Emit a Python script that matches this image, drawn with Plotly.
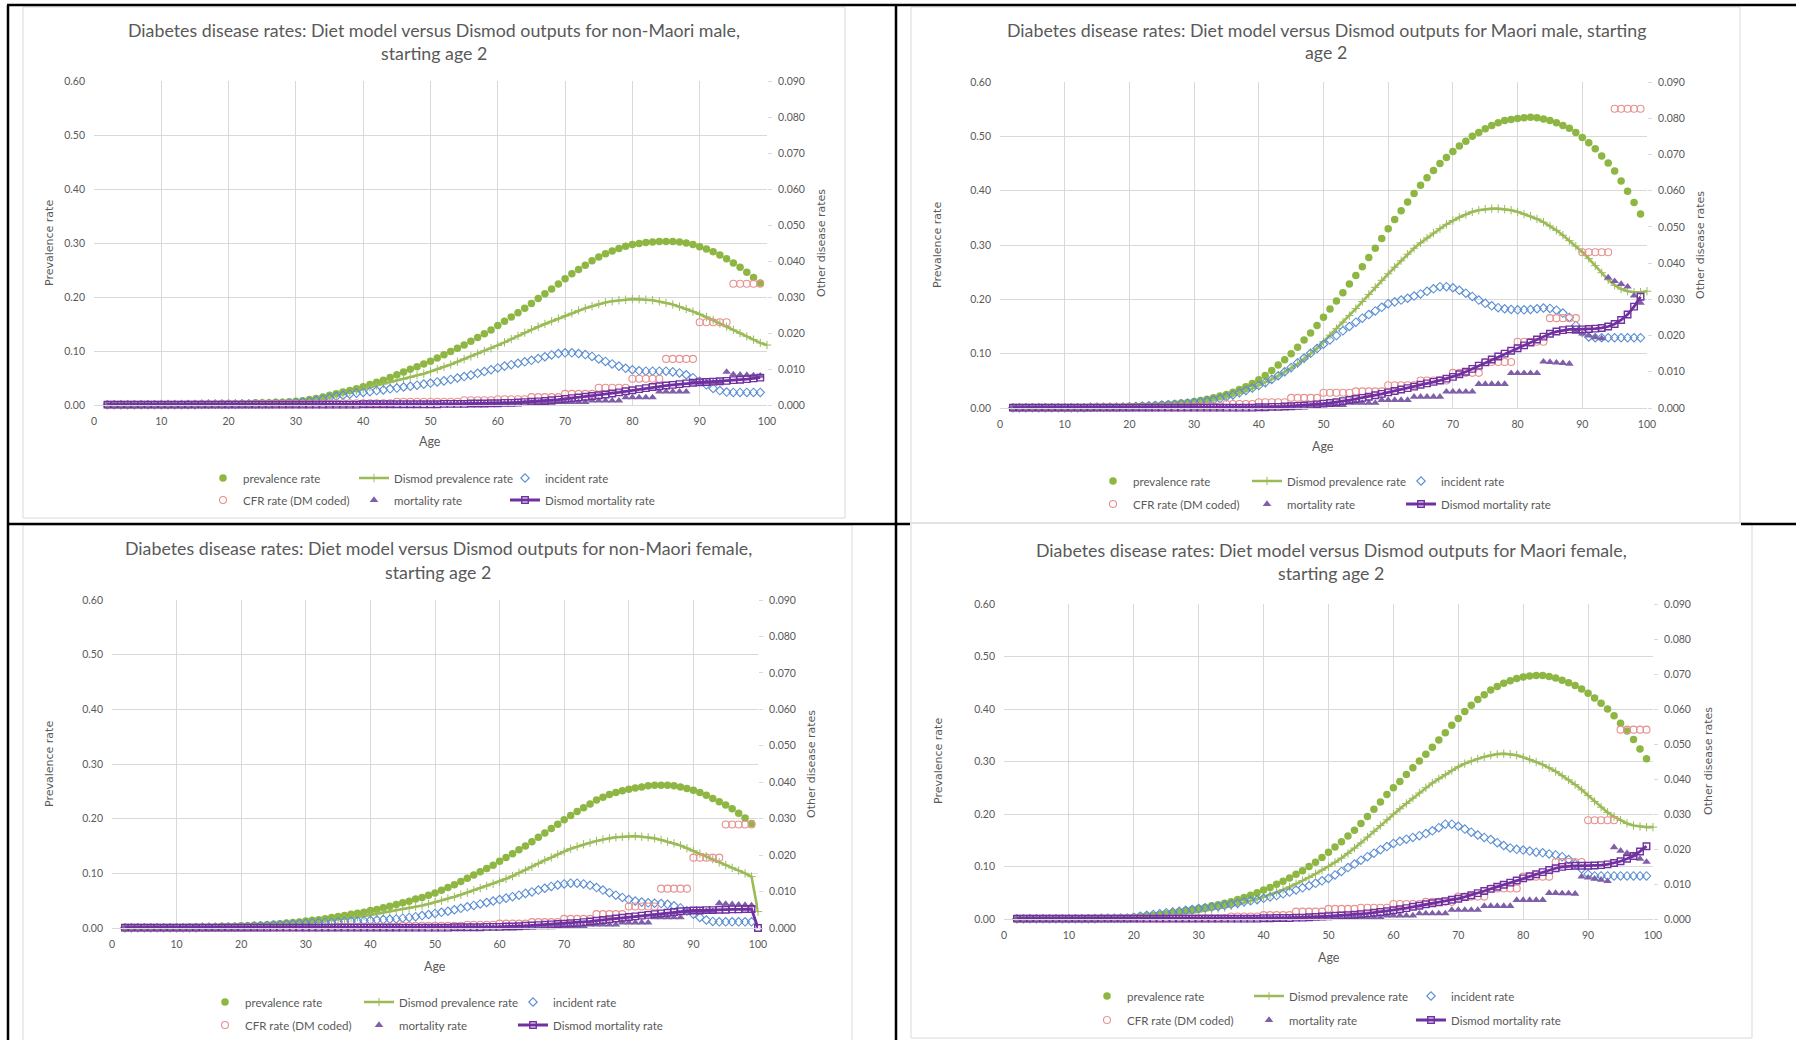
import plotly.graph_objects as go

W, H = 1796, 1040

# ---------------- DATA (ages 2..99; Dismod prevalence 2..100) ----------------
TITLES = [
    ("Diabetes disease rates: Diet model versus Dismod outputs for non-Maori male,", "starting age 2"),
    ("Diabetes disease rates: Diet model versus Dismod outputs for Maori male, starting", "age 2"),
    ("Diabetes disease rates: Diet model versus Dismod outputs for non-Maori female,", "starting age 2"),
    ("Diabetes disease rates: Diet model versus Dismod outputs for Maori female,", "starting age 2"),
]
SERIES_NAMES = ["prevalence rate", "Dismod prevalence rate", "incident rate",
                "CFR rate (DM coded)", "mortality rate", "Dismod mortality rate"]
X_TICKS = [0, 10, 20, 30, 40, 50, 60, 70, 80, 90, 100]
Y1_TICKS = [0.0, 0.1, 0.2, 0.3, 0.4, 0.5, 0.6]
Y2_TICKS = [0.0, 0.01, 0.02, 0.03, 0.04, 0.05, 0.06, 0.07, 0.08, 0.09]

# non-Maori male
NMM_PREV = [0.000, 0.000, 0.000, 0.000, 0.000, 0.001, 0.001, 0.001,
            0.001, 0.001, 0.001, 0.001, 0.002, 0.002, 0.002, 0.002, 0.002, 0.003,
            0.003, 0.003, 0.003, 0.003, 0.004, 0.004, 0.004, 0.005, 0.005, 0.006,
            0.007, 0.008, 0.010, 0.012, 0.015, 0.018, 0.021, 0.024, 0.027, 0.030,
            0.034, 0.038, 0.042, 0.046, 0.051, 0.056, 0.061, 0.066, 0.071, 0.076,
            0.081, 0.087, 0.093, 0.099, 0.105, 0.111, 0.118, 0.125, 0.132, 0.139,
            0.147, 0.155, 0.163, 0.171, 0.179, 0.188, 0.197, 0.206, 0.215, 0.224,
            0.234, 0.243, 0.251, 0.259, 0.267, 0.274, 0.280, 0.285, 0.290, 0.294,
            0.297, 0.299, 0.301, 0.302, 0.303, 0.303, 0.303, 0.302, 0.300, 0.297,
            0.293, 0.289, 0.284, 0.278, 0.271, 0.263, 0.255, 0.246, 0.236, 0.226]
NMM_DPREV = [0.001, 0.001, 0.001, 0.001, 0.001, 0.001, 0.001, 0.001,
             0.002, 0.002, 0.002, 0.002, 0.002, 0.002, 0.002, 0.003, 0.003, 0.003,
             0.003, 0.003, 0.003, 0.003, 0.003, 0.004, 0.004, 0.004, 0.004, 0.005,
             0.005, 0.006, 0.008, 0.010, 0.012, 0.015, 0.018, 0.021, 0.024, 0.027,
             0.030, 0.033, 0.036, 0.039, 0.042, 0.045, 0.048, 0.051, 0.055, 0.058,
             0.062, 0.066, 0.071, 0.075, 0.080, 0.085, 0.090, 0.095, 0.100, 0.105,
             0.110, 0.116, 0.122, 0.128, 0.134, 0.140, 0.145, 0.150, 0.155, 0.160,
             0.165, 0.170, 0.175, 0.179, 0.183, 0.187, 0.190, 0.192, 0.194, 0.195,
             0.196, 0.196, 0.195, 0.194, 0.192, 0.189, 0.186, 0.182, 0.178, 0.173,
             0.168, 0.163, 0.157, 0.151, 0.145, 0.139, 0.133, 0.127, 0.121, 0.115,
             0.111]
NMM_INC = [0.0001, 0.0001, 0.0001, 0.0001, 0.0001, 0.0001, 0.0001, 0.0001,
           0.0001, 0.0001, 0.0001, 0.0001, 0.0001, 0.0001, 0.0002, 0.0002, 0.0002, 0.0002,
           0.0002, 0.0002, 0.0003, 0.0003, 0.0003, 0.0003, 0.0003, 0.0004, 0.0004, 0.0005,
           0.0006, 0.0008, 0.0010, 0.0013, 0.0016, 0.0020, 0.0024, 0.0027, 0.0030, 0.0033,
           0.0035, 0.0037, 0.0040, 0.0042, 0.0045, 0.0047, 0.0050, 0.0052, 0.0055, 0.0058,
           0.0061, 0.0064, 0.0067, 0.0071, 0.0075, 0.0079, 0.0083, 0.0088, 0.0093, 0.0098,
           0.0103, 0.0108, 0.0112, 0.0116, 0.0120, 0.0124, 0.0129, 0.0134, 0.0139, 0.0143,
           0.0145, 0.0145, 0.0143, 0.0140, 0.0135, 0.0128, 0.0121, 0.0114, 0.0108, 0.0102,
           0.0098, 0.0095, 0.0094, 0.0094, 0.0094, 0.0094, 0.0092, 0.0089, 0.0084, 0.0076,
           0.0066, 0.0056, 0.0046, 0.0040, 0.0036, 0.0035, 0.0035, 0.0035, 0.0035, 0.0035]
NMM_CFR = [0.0001, 0.0001, 0.0001, 0.0001, 0.0001, 0.0001, 0.0001, 0.0001,
           0.0001, 0.0001, 0.0001, 0.0001, 0.0001, 0.0002, 0.0002, 0.0002, 0.0002, 0.0002,
           0.0002, 0.0002, 0.0002, 0.0002, 0.0002, 0.0003, 0.0003, 0.0003, 0.0003, 0.0003,
           0.0003, 0.0003, 0.0003, 0.0003, 0.0003, 0.0005, 0.0005, 0.0005, 0.0005, 0.0005,
           0.0005, 0.0005, 0.0005, 0.0005, 0.0005, 0.0009, 0.0009, 0.0009, 0.0009, 0.0009,
           0.0009, 0.0009, 0.0009, 0.0009, 0.0009, 0.0013, 0.0013, 0.0013, 0.0013, 0.0013,
           0.0016, 0.0016, 0.0016, 0.0016, 0.0016, 0.0022, 0.0022, 0.0022, 0.0022, 0.0022,
           0.0031, 0.0031, 0.0031, 0.0031, 0.0031, 0.0048, 0.0048, 0.0048, 0.0048, 0.0048,
           0.0073, 0.0073, 0.0073, 0.0073, 0.0073, 0.0128, 0.0128, 0.0128, 0.0128, 0.0128,
           0.0230, 0.0230, 0.0230, 0.0230, 0.0230, 0.0337, 0.0337, 0.0337, 0.0337, 0.0337]
NMM_MORT = [0.0001, 0.0001, 0.0001, 0.0001, 0.0001, 0.0001, 0.0001, 0.0001,
            0.0001, 0.0001, 0.0001, 0.0001, 0.0001, 0.0001, 0.0001, 0.0001, 0.0001, 0.0001,
            0.0001, 0.0001, 0.0001, 0.0001, 0.0001, 0.0001, 0.0001, 0.0001, 0.0001, 0.0001,
            0.0001, 0.0001, 0.0001, 0.0001, 0.0001, 0.0001, 0.0001, 0.0001, 0.0001, 0.0002,
            0.0002, 0.0002, 0.0002, 0.0002, 0.0002, 0.0002, 0.0002, 0.0002, 0.0002, 0.0003,
            0.0003, 0.0003, 0.0003, 0.0003, 0.0004, 0.0004, 0.0004, 0.0004, 0.0004, 0.0005,
            0.0005, 0.0005, 0.0005, 0.0005, 0.0006, 0.0006, 0.0006, 0.0006, 0.0006, 0.0008,
            0.0008, 0.0008, 0.0008, 0.0008, 0.0012, 0.0012, 0.0012, 0.0012, 0.0012, 0.0021,
            0.0021, 0.0021, 0.0021, 0.0021, 0.0037, 0.0037, 0.0037, 0.0037, 0.0037, 0.0063,
            0.0063, 0.0063, 0.0063, 0.0063, 0.0092, 0.0085, 0.0084, 0.0083, 0.0082, 0.0081]
NMM_DMORT = [0.0001, 0.0001, 0.0001, 0.0001, 0.0001, 0.0001, 0.0001, 0.0001,
             0.0001, 0.0001, 0.0001, 0.0001, 0.0001, 0.0001, 0.0001, 0.0001, 0.0001, 0.0001,
             0.0001, 0.0001, 0.0001, 0.0001, 0.0001, 0.0001, 0.0001, 0.0001, 0.0001, 0.0001,
             0.0001, 0.0001, 0.0001, 0.0001, 0.0001, 0.0001, 0.0001, 0.0001, 0.0001, 0.0001,
             0.0002, 0.0002, 0.0002, 0.0002, 0.0002, 0.0002, 0.0002, 0.0002, 0.0002, 0.0002,
             0.0002, 0.0002, 0.0003, 0.0003, 0.0003, 0.0003, 0.0004, 0.0004, 0.0004, 0.0005,
             0.0005, 0.0006, 0.0006, 0.0007, 0.0008, 0.0009, 0.0010, 0.0011, 0.0013, 0.0015,
             0.0017, 0.0019, 0.0021, 0.0023, 0.0025, 0.0027, 0.0029, 0.0032, 0.0035, 0.0038,
             0.0041, 0.0044, 0.0047, 0.0050, 0.0052, 0.0054, 0.0056, 0.0058, 0.0060, 0.0062,
             0.0063, 0.0064, 0.0065, 0.0066, 0.0067, 0.0069, 0.0070, 0.0072, 0.0074, 0.0076]

# Maori male
MM_PREV = [0.000, 0.000, 0.001, 0.001, 0.001, 0.001, 0.001, 0.001,
           0.001, 0.001, 0.001, 0.001, 0.001, 0.002, 0.002, 0.002, 0.002, 0.002,
           0.003, 0.003, 0.004, 0.004, 0.005, 0.006, 0.007, 0.008, 0.009, 0.010,
           0.012, 0.014, 0.016, 0.019, 0.022, 0.025, 0.029, 0.034, 0.039, 0.045,
           0.052, 0.060, 0.069, 0.079, 0.089, 0.100, 0.112, 0.125, 0.138, 0.152,
           0.167, 0.182, 0.197, 0.212, 0.228, 0.244, 0.260, 0.277, 0.294, 0.312,
           0.330, 0.347, 0.363, 0.379, 0.395, 0.410, 0.424, 0.437, 0.450, 0.461,
           0.472, 0.482, 0.491, 0.500, 0.507, 0.514, 0.520, 0.525, 0.529, 0.531,
           0.533, 0.534, 0.535, 0.534, 0.532, 0.529, 0.525, 0.520, 0.515, 0.507,
           0.498, 0.488, 0.477, 0.464, 0.451, 0.436, 0.418, 0.399, 0.378, 0.357]
MM_DPREV = [0.000, 0.000, 0.001, 0.001, 0.001, 0.001, 0.001, 0.001,
            0.001, 0.001, 0.001, 0.001, 0.002, 0.002, 0.002, 0.002, 0.002, 0.002,
            0.003, 0.003, 0.004, 0.004, 0.005, 0.005, 0.006, 0.007, 0.008, 0.009,
            0.010, 0.011, 0.013, 0.015, 0.017, 0.020, 0.023, 0.027, 0.031, 0.036,
            0.042, 0.047, 0.053, 0.059, 0.066, 0.073, 0.081, 0.090, 0.100, 0.110,
            0.122, 0.134, 0.146, 0.158, 0.170, 0.183, 0.196, 0.209, 0.222, 0.235,
            0.247, 0.259, 0.271, 0.283, 0.294, 0.304, 0.313, 0.322, 0.330, 0.338,
            0.345, 0.351, 0.356, 0.361, 0.364, 0.366, 0.367, 0.367, 0.366, 0.364,
            0.361, 0.357, 0.353, 0.348, 0.342, 0.335, 0.327, 0.318, 0.308, 0.298,
            0.287, 0.275, 0.262, 0.249, 0.236, 0.226, 0.219, 0.215, 0.213, 0.213,
            0.215]
MM_INC = [0.0001, 0.0001, 0.0001, 0.0001, 0.0001, 0.0001, 0.0001, 0.0001,
          0.0001, 0.0001, 0.0001, 0.0001, 0.0002, 0.0002, 0.0002, 0.0002, 0.0002, 0.0003,
          0.0003, 0.0004, 0.0005, 0.0006, 0.0007, 0.0008, 0.0009, 0.0010, 0.0012, 0.0013,
          0.0015, 0.0017, 0.0019, 0.0022, 0.0026, 0.0031, 0.0036, 0.0042, 0.0048, 0.0055,
          0.0062, 0.0070, 0.0079, 0.0089, 0.0100, 0.0112, 0.0125, 0.0138, 0.0151, 0.0164,
          0.0176, 0.0188, 0.0200, 0.0213, 0.0225, 0.0237, 0.0248, 0.0258, 0.0268, 0.0278,
          0.0288, 0.0293, 0.0298, 0.0303, 0.0309, 0.0315, 0.0322, 0.0329, 0.0335, 0.0335,
          0.0332, 0.0325, 0.0317, 0.0308, 0.0298, 0.0289, 0.0282, 0.0277, 0.0274, 0.0272,
          0.0271, 0.0271, 0.0272, 0.0274, 0.0276, 0.0275, 0.0270, 0.0262, 0.0250, 0.0228,
          0.0209, 0.0196, 0.0194, 0.0194, 0.0194, 0.0194, 0.0194, 0.0194, 0.0194, 0.0194]
MM_CFR = [0.0001, 0.0001, 0.0001, 0.0001, 0.0001, 0.0001, 0.0001, 0.0001,
          0.0001, 0.0001, 0.0001, 0.0001, 0.0001, 0.0002, 0.0002, 0.0002, 0.0002, 0.0002,
          0.0002, 0.0002, 0.0002, 0.0002, 0.0002, 0.0003, 0.0003, 0.0003, 0.0003, 0.0003,
          0.0005, 0.0005, 0.0005, 0.0005, 0.0005, 0.0011, 0.0011, 0.0011, 0.0011, 0.0011,
          0.0016, 0.0016, 0.0016, 0.0016, 0.0016, 0.0028, 0.0028, 0.0028, 0.0028, 0.0028,
          0.0042, 0.0042, 0.0042, 0.0042, 0.0042, 0.0046, 0.0046, 0.0046, 0.0046, 0.0046,
          0.0063, 0.0063, 0.0063, 0.0063, 0.0063, 0.0076, 0.0076, 0.0076, 0.0076, 0.0076,
          0.0097, 0.0097, 0.0097, 0.0097, 0.0097, 0.0127, 0.0127, 0.0127, 0.0127, 0.0127,
          0.0183, 0.0183, 0.0183, 0.0183, 0.0183, 0.0248, 0.0248, 0.0248, 0.0248, 0.0248,
          0.0430, 0.0430, 0.0430, 0.0430, 0.0430, 0.0826, 0.0826, 0.0826, 0.0826, 0.0826]
MM_MORT = [0.0001, 0.0001, 0.0001, 0.0001, 0.0001, 0.0001, 0.0001, 0.0001,
           0.0001, 0.0001, 0.0001, 0.0001, 0.0001, 0.0001, 0.0001, 0.0001, 0.0001, 0.0001,
           0.0001, 0.0001, 0.0001, 0.0001, 0.0001, 0.0001, 0.0001, 0.0001, 0.0001, 0.0001,
           0.0001, 0.0001, 0.0001, 0.0001, 0.0001, 0.0001, 0.0001, 0.0001, 0.0001, 0.0001,
           0.0001, 0.0001, 0.0001, 0.0001, 0.0004, 0.0004, 0.0004, 0.0004, 0.0004, 0.0008,
           0.0008, 0.0008, 0.0008, 0.0008, 0.0014, 0.0014, 0.0014, 0.0014, 0.0014, 0.0022,
           0.0022, 0.0022, 0.0022, 0.0022, 0.0031, 0.0031, 0.0031, 0.0031, 0.0031, 0.0045,
           0.0045, 0.0045, 0.0045, 0.0045, 0.0066, 0.0066, 0.0066, 0.0066, 0.0066, 0.0096,
           0.0096, 0.0096, 0.0096, 0.0096, 0.0128, 0.0127, 0.0125, 0.0124, 0.0122, 0.0210,
           0.0205, 0.0200, 0.0195, 0.0192, 0.0360, 0.0350, 0.0342, 0.0335, 0.0310, 0.0290]
MM_DMORT = [0.0001, 0.0001, 0.0001, 0.0001, 0.0001, 0.0001, 0.0001, 0.0001,
            0.0001, 0.0001, 0.0001, 0.0001, 0.0001, 0.0001, 0.0001, 0.0001, 0.0001, 0.0001,
            0.0001, 0.0001, 0.0001, 0.0001, 0.0001, 0.0001, 0.0001, 0.0001, 0.0001, 0.0001,
            0.0001, 0.0001, 0.0001, 0.0001, 0.0001, 0.0001, 0.0001, 0.0001, 0.0001, 0.0001,
            0.0002, 0.0002, 0.0003, 0.0003, 0.0004, 0.0005, 0.0006, 0.0007, 0.0008, 0.0010,
            0.0012, 0.0014, 0.0016, 0.0019, 0.0022, 0.0025, 0.0028, 0.0031, 0.0035, 0.0039,
            0.0043, 0.0047, 0.0051, 0.0055, 0.0059, 0.0064, 0.0068, 0.0072, 0.0076, 0.0081,
            0.0086, 0.0093, 0.0100, 0.0108, 0.0117, 0.0126, 0.0134, 0.0142, 0.0150, 0.0158,
            0.0165, 0.0173, 0.0181, 0.0189, 0.0197, 0.0205, 0.0211, 0.0215, 0.0217, 0.0217,
            0.0217, 0.0218, 0.0219, 0.0221, 0.0225, 0.0232, 0.0243, 0.0258, 0.0280, 0.0307]

# non-Maori female (Dismod mortality 2..100)
NMF_PREV = [0.000, 0.000, 0.001, 0.001, 0.001, 0.001, 0.001, 0.001,
            0.001, 0.001, 0.002, 0.002, 0.002, 0.002, 0.002, 0.003, 0.003, 0.003,
            0.004, 0.004, 0.005, 0.005, 0.006, 0.007, 0.008, 0.009, 0.010, 0.011,
            0.013, 0.014, 0.015, 0.017, 0.019, 0.021, 0.023, 0.025, 0.027, 0.029,
            0.032, 0.034, 0.037, 0.040, 0.043, 0.046, 0.049, 0.053, 0.056, 0.060,
            0.064, 0.069, 0.074, 0.079, 0.085, 0.091, 0.097, 0.103, 0.109, 0.115,
            0.122, 0.129, 0.136, 0.143, 0.150, 0.158, 0.166, 0.174, 0.182, 0.190,
            0.198, 0.206, 0.213, 0.220, 0.227, 0.234, 0.239, 0.244, 0.248, 0.251,
            0.254, 0.256, 0.258, 0.260, 0.261, 0.261, 0.261, 0.260, 0.258, 0.255,
            0.252, 0.248, 0.243, 0.237, 0.231, 0.225, 0.218, 0.210, 0.201, 0.191]
NMF_DPREV = [0.000, 0.000, 0.001, 0.001, 0.001, 0.001, 0.001, 0.001,
             0.001, 0.001, 0.001, 0.002, 0.002, 0.002, 0.002, 0.002, 0.002, 0.002,
             0.003, 0.003, 0.004, 0.004, 0.005, 0.006, 0.006, 0.007, 0.008, 0.009,
             0.010, 0.011, 0.012, 0.013, 0.014, 0.016, 0.017, 0.019, 0.020, 0.022,
             0.024, 0.026, 0.028, 0.030, 0.032, 0.034, 0.036, 0.039, 0.041, 0.044,
             0.047, 0.050, 0.054, 0.057, 0.061, 0.065, 0.069, 0.073, 0.077, 0.081,
             0.085, 0.090, 0.095, 0.101, 0.106, 0.112, 0.118, 0.124, 0.129, 0.135,
             0.140, 0.145, 0.149, 0.153, 0.156, 0.159, 0.162, 0.164, 0.166, 0.167,
             0.168, 0.168, 0.167, 0.166, 0.164, 0.161, 0.158, 0.155, 0.151, 0.146,
             0.141, 0.136, 0.131, 0.126, 0.120, 0.115, 0.110, 0.105, 0.100, 0.094,
             0.030]
NMF_INC = [0.0001, 0.0001, 0.0001, 0.0001, 0.0001, 0.0001, 0.0001, 0.0001,
           0.0001, 0.0001, 0.0001, 0.0001, 0.0002, 0.0002, 0.0002, 0.0002, 0.0002, 0.0002,
           0.0003, 0.0004, 0.0005, 0.0006, 0.0007, 0.0008, 0.0009, 0.0010, 0.0011, 0.0012,
           0.0013, 0.0014, 0.0015, 0.0016, 0.0016, 0.0017, 0.0018, 0.0019, 0.0019, 0.0020,
           0.0021, 0.0022, 0.0023, 0.0024, 0.0025, 0.0027, 0.0029, 0.0031, 0.0034, 0.0037,
           0.0040, 0.0043, 0.0046, 0.0050, 0.0054, 0.0058, 0.0062, 0.0066, 0.0070, 0.0074,
           0.0078, 0.0082, 0.0086, 0.0090, 0.0095, 0.0099, 0.0104, 0.0109, 0.0114, 0.0118,
           0.0121, 0.0123, 0.0123, 0.0121, 0.0117, 0.0111, 0.0104, 0.0097, 0.0090, 0.0084,
           0.0078, 0.0074, 0.0071, 0.0069, 0.0068, 0.0067, 0.0065, 0.0061, 0.0055, 0.0047,
           0.0038, 0.0029, 0.0022, 0.0018, 0.0017, 0.0017, 0.0017, 0.0017, 0.0017, 0.0017]
NMF_CFR = [0.0001, 0.0001, 0.0001, 0.0001, 0.0001, 0.0001, 0.0001, 0.0001,
           0.0001, 0.0001, 0.0001, 0.0001, 0.0001, 0.0001, 0.0001, 0.0001, 0.0001, 0.0001,
           0.0001, 0.0001, 0.0001, 0.0001, 0.0001, 0.0002, 0.0002, 0.0002, 0.0002, 0.0002,
           0.0002, 0.0002, 0.0002, 0.0002, 0.0002, 0.0003, 0.0003, 0.0003, 0.0003, 0.0003,
           0.0003, 0.0003, 0.0003, 0.0003, 0.0003, 0.0006, 0.0006, 0.0006, 0.0006, 0.0006,
           0.0006, 0.0006, 0.0006, 0.0006, 0.0006, 0.0009, 0.0009, 0.0009, 0.0009, 0.0009,
           0.0012, 0.0012, 0.0012, 0.0012, 0.0012, 0.0016, 0.0016, 0.0016, 0.0016, 0.0016,
           0.0025, 0.0025, 0.0025, 0.0025, 0.0025, 0.0038, 0.0038, 0.0038, 0.0038, 0.0038,
           0.0059, 0.0059, 0.0059, 0.0059, 0.0059, 0.0108, 0.0108, 0.0108, 0.0108, 0.0108,
           0.0193, 0.0193, 0.0193, 0.0193, 0.0193, 0.0284, 0.0284, 0.0284, 0.0284, 0.0284]
NMF_MORT = [0.0001, 0.0001, 0.0001, 0.0001, 0.0001, 0.0001, 0.0001, 0.0001,
            0.0001, 0.0001, 0.0001, 0.0001, 0.0001, 0.0001, 0.0001, 0.0001, 0.0001, 0.0001,
            0.0001, 0.0001, 0.0001, 0.0001, 0.0001, 0.0001, 0.0001, 0.0001, 0.0001, 0.0001,
            0.0001, 0.0001, 0.0001, 0.0001, 0.0001, 0.0001, 0.0001, 0.0001, 0.0001, 0.0001,
            0.0001, 0.0001, 0.0001, 0.0001, 0.0001, 0.0001, 0.0001, 0.0001, 0.0001, 0.0002,
            0.0002, 0.0002, 0.0002, 0.0002, 0.0002, 0.0002, 0.0002, 0.0002, 0.0002, 0.0002,
            0.0002, 0.0002, 0.0002, 0.0002, 0.0002, 0.0002, 0.0002, 0.0002, 0.0002, 0.0005,
            0.0005, 0.0005, 0.0005, 0.0005, 0.0009, 0.0009, 0.0009, 0.0009, 0.0009, 0.0015,
            0.0015, 0.0015, 0.0015, 0.0015, 0.0029, 0.0029, 0.0029, 0.0029, 0.0029, 0.0046,
            0.0046, 0.0046, 0.0046, 0.0046, 0.0068, 0.0066, 0.0065, 0.0064, 0.0063, 0.0062]
NMF_DMORT = [0.0001, 0.0001, 0.0001, 0.0001, 0.0001, 0.0001, 0.0001, 0.0001,
             0.0001, 0.0001, 0.0001, 0.0001, 0.0001, 0.0001, 0.0001, 0.0001, 0.0001, 0.0001,
             0.0001, 0.0001, 0.0001, 0.0001, 0.0001, 0.0001, 0.0001, 0.0001, 0.0001, 0.0001,
             0.0001, 0.0001, 0.0001, 0.0001, 0.0001, 0.0001, 0.0001, 0.0001, 0.0001, 0.0001,
             0.0001, 0.0001, 0.0001, 0.0001, 0.0001, 0.0001, 0.0001, 0.0001, 0.0001, 0.0001,
             0.0001, 0.0001, 0.0001, 0.0002, 0.0002, 0.0002, 0.0002, 0.0002, 0.0003, 0.0003,
             0.0003, 0.0004, 0.0004, 0.0005, 0.0006, 0.0007, 0.0008, 0.0009, 0.0010, 0.0011,
             0.0012, 0.0013, 0.0014, 0.0016, 0.0018, 0.0020, 0.0022, 0.0024, 0.0026, 0.0028,
             0.0030, 0.0032, 0.0034, 0.0036, 0.0038, 0.0040, 0.0042, 0.0044, 0.0046, 0.0047,
             0.0048, 0.0048, 0.0049, 0.0049, 0.0050, 0.0050, 0.0051, 0.0051, 0.0052, 0.0052,
             0.0000]

# Maori female
MF_PREV = [0.000, 0.000, 0.001, 0.001, 0.001, 0.001, 0.001, 0.001,
           0.001, 0.001, 0.001, 0.002, 0.002, 0.002, 0.002, 0.002, 0.003, 0.003,
           0.004, 0.005, 0.006, 0.007, 0.008, 0.010, 0.012, 0.014, 0.016, 0.018,
           0.020, 0.022, 0.025, 0.027, 0.030, 0.033, 0.037, 0.041, 0.045, 0.050,
           0.055, 0.060, 0.066, 0.072, 0.078, 0.085, 0.092, 0.100, 0.108, 0.117,
           0.127, 0.137, 0.147, 0.158, 0.169, 0.182, 0.195, 0.209, 0.223, 0.237,
           0.250, 0.262, 0.275, 0.288, 0.301, 0.314, 0.327, 0.341, 0.355, 0.369,
           0.382, 0.395, 0.407, 0.418, 0.427, 0.436, 0.443, 0.449, 0.454, 0.458,
           0.461, 0.463, 0.464, 0.464, 0.462, 0.459, 0.455, 0.450, 0.445, 0.438,
           0.430, 0.421, 0.411, 0.400, 0.387, 0.373, 0.358, 0.342, 0.324, 0.305]
MF_DPREV = [0.000, 0.000, 0.001, 0.001, 0.001, 0.001, 0.001, 0.001,
            0.001, 0.001, 0.001, 0.001, 0.002, 0.002, 0.002, 0.002, 0.002, 0.002,
            0.003, 0.004, 0.005, 0.005, 0.006, 0.007, 0.008, 0.010, 0.011, 0.012,
            0.014, 0.016, 0.018, 0.020, 0.022, 0.025, 0.028, 0.031, 0.035, 0.038,
            0.042, 0.046, 0.051, 0.056, 0.061, 0.067, 0.073, 0.079, 0.086, 0.093,
            0.100, 0.108, 0.116, 0.125, 0.135, 0.145, 0.156, 0.167, 0.178, 0.189,
            0.200, 0.210, 0.220, 0.230, 0.240, 0.250, 0.259, 0.267, 0.275, 0.283,
            0.290, 0.296, 0.301, 0.305, 0.309, 0.312, 0.314, 0.315, 0.314, 0.312,
            0.308, 0.304, 0.299, 0.294, 0.288, 0.281, 0.273, 0.265, 0.256, 0.246,
            0.235, 0.224, 0.213, 0.203, 0.195, 0.188, 0.182, 0.178, 0.176, 0.175,
            0.175]
MF_INC = [0.0001, 0.0001, 0.0001, 0.0001, 0.0001, 0.0001, 0.0001, 0.0001,
          0.0001, 0.0001, 0.0001, 0.0001, 0.0001, 0.0002, 0.0002, 0.0002, 0.0002, 0.0002,
          0.0004, 0.0008, 0.0011, 0.0013, 0.0015, 0.0018, 0.0020, 0.0022, 0.0025, 0.0027,
          0.0030, 0.0032, 0.0034, 0.0036, 0.0039, 0.0042, 0.0045, 0.0049, 0.0052, 0.0055,
          0.0059, 0.0063, 0.0067, 0.0072, 0.0077, 0.0083, 0.0089, 0.0095, 0.0102, 0.0109,
          0.0116, 0.0126, 0.0136, 0.0147, 0.0157, 0.0168, 0.0178, 0.0188, 0.0198, 0.0207,
          0.0216, 0.0222, 0.0228, 0.0233, 0.0238, 0.0244, 0.0252, 0.0261, 0.0271, 0.0271,
          0.0265, 0.0257, 0.0248, 0.0240, 0.0233, 0.0227, 0.0218, 0.0210, 0.0203, 0.0199,
          0.0197, 0.0194, 0.0191, 0.0189, 0.0186, 0.0183, 0.0178, 0.0170, 0.0158, 0.0143,
          0.0128, 0.0123, 0.0123, 0.0123, 0.0123, 0.0123, 0.0123, 0.0123, 0.0123, 0.0123]
MF_CFR = [0.0001, 0.0001, 0.0001, 0.0001, 0.0001, 0.0001, 0.0001, 0.0001,
          0.0001, 0.0001, 0.0001, 0.0001, 0.0001, 0.0002, 0.0002, 0.0002, 0.0002, 0.0002,
          0.0002, 0.0002, 0.0002, 0.0002, 0.0002, 0.0002, 0.0002, 0.0002, 0.0002, 0.0002,
          0.0003, 0.0003, 0.0003, 0.0003, 0.0003, 0.0007, 0.0007, 0.0007, 0.0007, 0.0007,
          0.0011, 0.0011, 0.0011, 0.0011, 0.0011, 0.0021, 0.0021, 0.0021, 0.0021, 0.0021,
          0.0029, 0.0029, 0.0029, 0.0029, 0.0029, 0.0032, 0.0032, 0.0032, 0.0032, 0.0032,
          0.0043, 0.0043, 0.0043, 0.0043, 0.0043, 0.0049, 0.0049, 0.0049, 0.0049, 0.0049,
          0.0064, 0.0064, 0.0064, 0.0064, 0.0064, 0.0087, 0.0087, 0.0087, 0.0087, 0.0087,
          0.0121, 0.0121, 0.0121, 0.0121, 0.0121, 0.0163, 0.0163, 0.0163, 0.0163, 0.0163,
          0.0282, 0.0282, 0.0282, 0.0282, 0.0282, 0.0541, 0.0541, 0.0541, 0.0541, 0.0541]
MF_MORT = [0.0001, 0.0001, 0.0001, 0.0001, 0.0001, 0.0001, 0.0001, 0.0001,
           0.0001, 0.0001, 0.0001, 0.0001, 0.0001, 0.0001, 0.0001, 0.0001, 0.0001, 0.0001,
           0.0001, 0.0001, 0.0001, 0.0001, 0.0001, 0.0001, 0.0001, 0.0001, 0.0001, 0.0001,
           0.0001, 0.0001, 0.0001, 0.0001, 0.0001, 0.0001, 0.0001, 0.0001, 0.0001, 0.0001,
           0.0001, 0.0001, 0.0001, 0.0001, 0.0003, 0.0003, 0.0003, 0.0003, 0.0003, 0.0003,
           0.0003, 0.0003, 0.0003, 0.0003, 0.0005, 0.0005, 0.0005, 0.0005, 0.0005, 0.0010,
           0.0010, 0.0010, 0.0010, 0.0010, 0.0016, 0.0016, 0.0016, 0.0016, 0.0016, 0.0026,
           0.0026, 0.0026, 0.0026, 0.0026, 0.0037, 0.0037, 0.0037, 0.0037, 0.0037, 0.0054,
           0.0054, 0.0054, 0.0054, 0.0054, 0.0074, 0.0074, 0.0073, 0.0073, 0.0072, 0.0121,
           0.0118, 0.0115, 0.0112, 0.0108, 0.0205, 0.0195, 0.0188, 0.0182, 0.0172, 0.0163]
MF_DMORT = [0.0001, 0.0001, 0.0001, 0.0001, 0.0001, 0.0001, 0.0001, 0.0001,
            0.0001, 0.0001, 0.0001, 0.0001, 0.0001, 0.0001, 0.0001, 0.0001, 0.0001, 0.0001,
            0.0001, 0.0001, 0.0001, 0.0001, 0.0001, 0.0001, 0.0001, 0.0001, 0.0001, 0.0001,
            0.0001, 0.0001, 0.0001, 0.0001, 0.0001, 0.0001, 0.0001, 0.0001, 0.0001, 0.0001,
            0.0002, 0.0002, 0.0003, 0.0003, 0.0003, 0.0004, 0.0004, 0.0005, 0.0006, 0.0007,
            0.0008, 0.0009, 0.0010, 0.0011, 0.0012, 0.0014, 0.0016, 0.0018, 0.0020, 0.0022,
            0.0025, 0.0028, 0.0031, 0.0035, 0.0038, 0.0042, 0.0045, 0.0048, 0.0051, 0.0055,
            0.0058, 0.0063, 0.0068, 0.0074, 0.0080, 0.0086, 0.0092, 0.0098, 0.0104, 0.0110,
            0.0116, 0.0122, 0.0128, 0.0134, 0.0140, 0.0145, 0.0149, 0.0151, 0.0152, 0.0152,
            0.0152, 0.0153, 0.0154, 0.0156, 0.0160, 0.0165, 0.0172, 0.0180, 0.0193, 0.0208]

CHART_DATA = [
    [NMM_PREV, NMM_DPREV, NMM_INC, NMM_CFR, NMM_MORT, NMM_DMORT],
    [MM_PREV, MM_DPREV, MM_INC, MM_CFR, MM_MORT, MM_DMORT],
    [NMF_PREV, NMF_DPREV, NMF_INC, NMF_CFR, NMF_MORT, NMF_DMORT],
    [MF_PREV, MF_DPREV, MF_INC, MF_CFR, MF_MORT, MF_DMORT],
]

# ---------------- STYLE / LAYOUT ----------------
FONT = "Lato"
GREY = "#595959"
GRID = "#d9d9d9"

STYLES = [
    dict(mode="markers", marker=dict(symbol="circle", size=7.5, color="#8DB642")),
    dict(mode="lines+markers", line=dict(color="#9BBB59", width=2.6),
         marker=dict(symbol="cross-thin", size=6, color="#9BBB59", line=dict(width=1, color="#9BBB59"))),
    dict(mode="markers", marker=dict(symbol="diamond-open", size=6.5, color="#5B8FD4", line=dict(width=1.1))),
    dict(mode="markers", marker=dict(symbol="circle-open", size=7, color="#E8918F", line=dict(width=1.1))),
    dict(mode="markers", marker=dict(symbol="triangle-up", size=7.5, color="#7F60A8")),
    dict(mode="lines+markers", line=dict(color="#7030A0", width=2.8),
         marker=dict(symbol="square-open", size=6.5, color="#7030A0", line=dict(width=1.4))),
]
ON_SECONDARY = [False, False, True, True, True, True]

# geometry in pixels (plot l, t, r, b); titles; axis titles; legends; boxes
GEOM = [
    dict(plot=(94, 81, 767, 405), tx=434, ty=(30, 53), age=(430, 441), yt=(49, 821, 243),
         leg=(223, 151, 478, 500), box=(23, 7, 845, 518)),
    dict(plot=(1000, 82, 1647, 408), tx=1326, ty=(30, 52), age=(1323, 446), yt=(937, 1700, 245),
         leg=(1113, 154, 481, 504), box=(911, 7, 1740, 523)),
    dict(plot=(112, 600, 758, 928), tx=438, ty=(548, 572), age=(435, 966), yt=(49, 811, 764),
         leg=(225, 154, 1002, 1025), box=(23, 525, 852, 1046)),
    dict(plot=(1004, 604, 1653, 919), tx=1331, ty=(550, 573), age=(1329, 957), yt=(938, 1708, 761),
         leg=(1107, 162, 996, 1020), box=(911, 523, 1752, 1038)),
]


def px(x):
    return x / W


def py(y):
    return 1 - y / H


fig = go.Figure()
layout = dict(width=W, height=H, margin=dict(l=0, r=0, t=0, b=0, pad=0, autoexpand=False),
              paper_bgcolor="white", plot_bgcolor="white", showlegend=True)
annotations = []
shapes = []

for i, (data, g) in enumerate(zip(CHART_DATA, GEOM)):
    xid = "x" if i == 0 else f"x{i + 1}"
    y1id = "y" if i == 0 else f"y{2 * i + 1}"
    y2id = f"y{2 * i + 2}"
    xkey = "xaxis" if i == 0 else f"xaxis{i + 1}"
    y1key = "yaxis" if i == 0 else f"yaxis{2 * i + 1}"
    y2key = f"yaxis{2 * i + 2}"
    leg1 = "legend" if i == 0 else f"legend{2 * i + 1}"
    leg2 = f"legend{2 * i + 2}"

    for k, (name, vals, st, sec) in enumerate(zip(SERIES_NAMES, data, STYLES, ON_SECONDARY)):
        ages = list(range(2, 2 + len(vals)))
        fig.add_trace(go.Scatter(x=ages, y=vals, name=name, xaxis=xid, yaxis=y2id if sec else y1id,
                                 legend=leg1 if k < 3 else leg2, cliponaxis=False, hoverinfo="skip", **st))

    l, t, r, b = g["plot"]
    tickfont = dict(family=FONT, size=10.5, color=GREY)
    layout[xkey] = dict(domain=[px(l), px(r)], anchor=y1id, range=[0, 100], tickvals=X_TICKS,
                        showgrid=True, gridcolor=GRID, gridwidth=1, zeroline=False, automargin=False,
                        showline=True, linecolor=GRID, linewidth=1, ticks="", tickfont=tickfont,
                        ticklabelstandoff=6)
    layout[y1key] = dict(domain=[py(b), py(t)], anchor=xid, range=[0, 0.6], tickvals=Y1_TICKS,
                         tickformat=".2f", showgrid=True, gridcolor=GRID, gridwidth=1, zeroline=False,
                         automargin=False, showline=False, ticks="", tickfont=tickfont, ticklabelstandoff=8)
    layout[y2key] = dict(overlaying=y1id, anchor=xid, side="right", range=[0, 0.09], tickvals=Y2_TICKS,
                         tickformat=".3f", showgrid=False, zeroline=False, showline=False, automargin=False,
                         ticks="outside", ticklen=4, tickcolor=GRID, tickfont=tickfont,
                         ticklabelstandoff=4)

    # titles
    t1, t2 = TITLES[i]
    for txt, yy in zip((t1, t2), g["ty"]):
        annotations.append(dict(text=txt, x=px(g["tx"]), y=py(yy), xref="paper", yref="paper",
                                showarrow=False, xanchor="center", yanchor="middle",
                                font=dict(family=FONT, size=17.8, color=GREY)))
    annotations.append(dict(text="Age", x=px(g["age"][0]), y=py(g["age"][1]), xref="paper", yref="paper",
                            showarrow=False, xanchor="center", yanchor="middle",
                            font=dict(family=FONT, size=12.5, color=GREY)))
    ylx, yrx, yc = g["yt"]
    annotations.append(dict(text="Prevalence rate", x=px(ylx), y=py(yc), xref="paper", yref="paper",
                            showarrow=False, textangle=-90, xanchor="center", yanchor="middle",
                            font=dict(family="DejaVu Sans", size=11, color=GREY)))
    annotations.append(dict(text="Other disease rates", x=px(yrx), y=py(yc), xref="paper", yref="paper",
                            showarrow=False, textangle=-90, xanchor="center", yanchor="middle",
                            font=dict(family="DejaVu Sans", size=11, color=GREY)))

    # legends (two rows)
    x0, sp, r1, r2 = g["leg"]
    for key, yy in ((leg1, r1), (leg2, r2)):
        layout[key] = dict(orientation="h", x=px(x0 - 20), y=py(yy), xanchor="left", yanchor="middle",
                           xref="paper", yref="paper", entrywidth=sp - 45, entrywidthmode="pixels",
                           itemwidth=30, bgcolor="rgba(0,0,0,0)", borderwidth=0,
                           font=dict(family=FONT, size=11.5, color=GREY), tracegroupgap=0)

    # chart box
    bx0, by0, bx1, by1 = g["box"]
    shapes.append(dict(type="rect", xref="paper", yref="paper", x0=px(bx0), x1=px(bx1),
                       y0=py(by1), y1=py(by0), line=dict(color=GRID, width=1), layer="below"))

# table borders
for (xa, ya, xb, yb) in [(7, 5, 1796, 5), (8, 5, 8, 1040), (896, 5, 896, 1040),
                         (7, 524, 910, 524), (1741, 524, 1796, 524)]:
    shapes.append(dict(type="line", xref="paper", yref="paper", x0=px(xa), x1=px(xb),
                       y0=py(ya), y1=py(yb), line=dict(color="black", width=2.5)))

layout["annotations"] = annotations
layout["shapes"] = shapes
fig.update_layout(**layout)
fig.write_html("out.html",
               post_script="document.documentElement.style.margin='0';document.body.style.margin='0';document.body.style.overflow='hidden';")
